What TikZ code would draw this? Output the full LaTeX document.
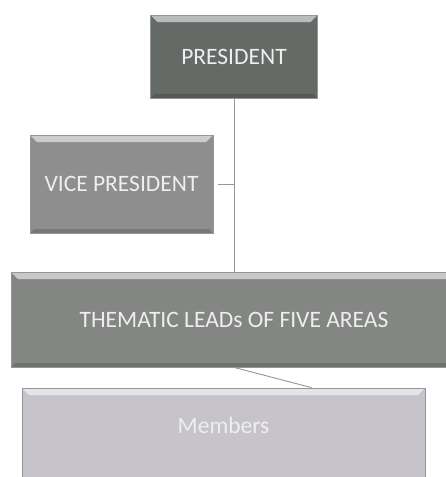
\documentclass[tikz,border=0pt]{standalone}
\usepackage{fontspec}
\setmainfont{Carlito}
\usetikzlibrary{positioning}
\definecolor{presfill}{RGB}{102,106,102}
\definecolor{vpfill}{RGB}{142,142,142}
\definecolor{leadfill}{RGB}{132,134,132}
\definecolor{memfill}{RGB}{198,196,202}
\definecolor{linegray}{RGB}{150,150,150}
\definecolor{textwhite}{RGB}{238,238,238}

\begin{document}
\begin{tikzpicture}[x=1pt, y=-1pt,
  box/.style={draw=linegray, line width=0.8pt, text=textwhite, inner sep=0pt,
    font=\fontsize{23.5}{28}\selectfont,
    path picture={
      \fill[white, opacity=.55] (path picture bounding box.north west) -- (path picture bounding box.north east)
        -- ([xshift=-7pt,yshift=-7pt]path picture bounding box.north east) -- ([xshift=7pt,yshift=-7pt]path picture bounding box.north west) -- cycle;
      \fill[black, opacity=.15] (path picture bounding box.south west) -- (path picture bounding box.south east)
        -- ([xshift=-4pt,yshift=4pt]path picture bounding box.south east) -- ([xshift=4pt,yshift=4pt]path picture bounding box.south west) -- cycle;
    }},
  link/.style={draw=linegray, line width=0.9pt}]
\clip (0,0) rectangle (446,477);
\fill[white] (0,0) rectangle (446,477);

\node[box, fill=presfill, minimum width=167pt, minimum height=83pt] (pres) at (234,56.5) {PRESIDENT};
\node[box, fill=vpfill, minimum width=183pt, minimum height=98pt] (vp) at (121.5,184) {VICE PRESIDENT};
\node[box, fill=leadfill, minimum width=446pt, minimum height=95pt] (leads) at (234,319.5) {THEMATIC LEADs OF FIVE AREAS};
\node[box, fill=memfill, text depth=25pt, minimum width=403pt, minimum height=100pt] (members) at (223.5,438) {Members};

\coordinate (vpjoin) at (pres.south |- vp.east);
\coordinate (memtop) at ([xshift=88pt]members.north);

\path[link] (pres.south) -- (pres.south |- leads.north);
\path[link] ([xshift=5pt]vp.east) -- (vpjoin);
\path[link] (leads.south) -- (memtop);

\end{tikzpicture}
\end{document}
